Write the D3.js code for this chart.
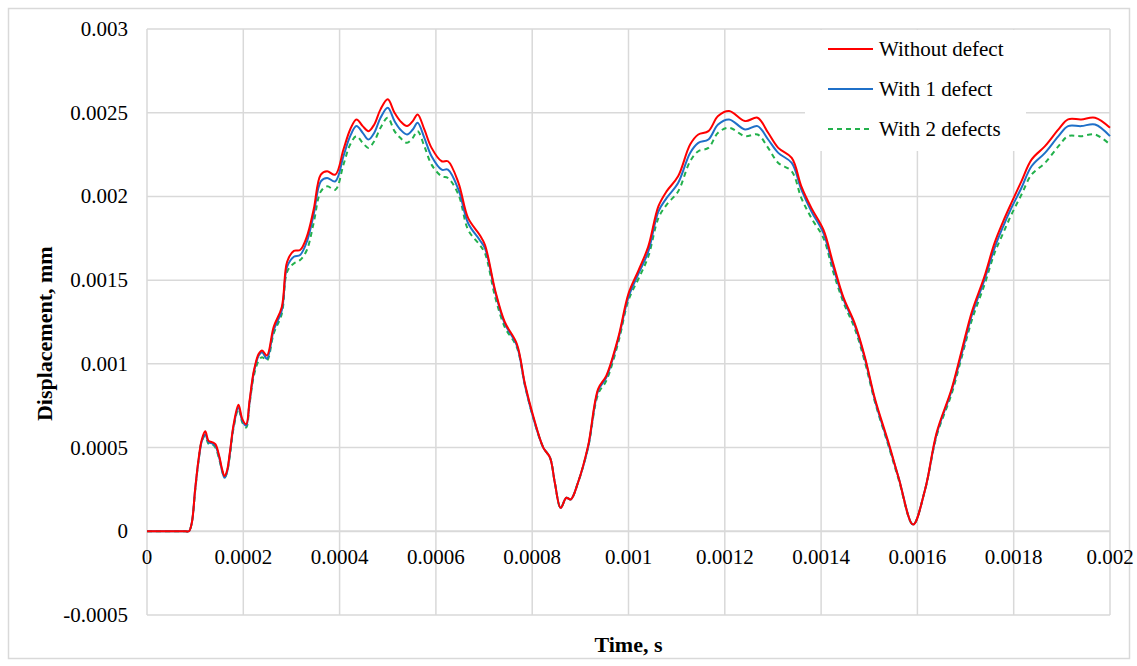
<!DOCTYPE html>
<html>
<head>
<meta charset="utf-8">
<script src="https://cdn.jsdelivr.net/npm/d3@7"></script>
<style>
  body { margin: 0; background: #fff; }
  text { font-family: "Liberation Serif", "Times New Roman", serif; fill: #000; }
</style>
</head>
<body>
<div id="chart"></div>
<script>
// Time samples (s)
let time = [0, 0.00008, 0.000087, 0.000093, 0.0001, 0.000107, 0.000114, 0.000121, 0.000128, 0.000135,
  0.000142, 0.00015, 0.000156, 0.000161, 0.000166, 0.000172, 0.00018, 0.00019, 0.000198, 0.000206,
  0.000213, 0.000222, 0.000232, 0.000239, 0.000249, 0.000263, 0.00028, 0.000291, 0.000305, 0.000318,
  0.000332, 0.000346, 0.000361, 0.000374, 0.000391, 0.000408, 0.000422, 0.000435, 0.000448, 0.00046,
  0.000472, 0.000485, 0.0005, 0.000514, 0.000526, 0.00054, 0.000552, 0.000562, 0.000576, 0.000591,
  0.000612, 0.000625, 0.000647, 0.000667, 0.000691, 0.000702, 0.000723, 0.000743, 0.000768, 0.000785,
  0.000802, 0.000823, 0.000837, 0.000847, 0.000859, 0.000871, 0.00088, 0.000895, 0.000916, 0.000937,
  0.000954, 0.000979, 0.001, 0.001021, 0.001041, 0.001062, 0.001079, 0.001103, 0.001128, 0.001145,
  0.001166, 0.001186, 0.001209, 0.001242, 0.001268, 0.00129, 0.001311, 0.001339, 0.001359, 0.00138,
  0.001405, 0.001425, 0.001446, 0.00147, 0.001491, 0.001512, 0.00154, 0.001561, 0.001591, 0.001616,
  0.00164, 0.001671, 0.001692, 0.001713, 0.001739, 0.00176, 0.001778, 0.001795, 0.001816, 0.001837,
  0.001865, 0.001893, 0.001913, 0.00194, 0.001969, 0.002];

// Displacement (mm), without defect
let noDefect = [0, 0, 0, 0.00005, 0.00025, 0.00043, 0.00055, 0.000597, 0.00054, 0.000533,
  0.00052, 0.00045, 0.00037, 0.00033, 0.00036, 0.00047, 0.00064, 0.000756, 0.00067, 0.00064,
  0.00078, 0.00096, 0.00106, 0.00108, 0.00105, 0.00122, 0.00134, 0.00161, 0.001675, 0.00168,
  0.00176, 0.00192, 0.00213, 0.00215, 0.00213, 0.00228, 0.0024, 0.00246, 0.00242, 0.00239,
  0.00243, 0.00252, 0.00258, 0.0025, 0.00245, 0.00242, 0.00245, 0.00249, 0.0024, 0.00229,
  0.00221, 0.00221, 0.00208, 0.00187, 0.00177, 0.00171, 0.00144, 0.00125, 0.00112, 0.00088,
  0.00069, 0.0005, 0.00044, 0.00029, 0.00014, 0.0002, 0.00019, 0.00029, 0.00051, 0.00085,
  0.00093, 0.00116, 0.00142, 0.00156, 0.0017, 0.00194, 0.00203, 0.00212, 0.00231, 0.00237,
  0.00239, 0.00248, 0.00251, 0.00245, 0.00247, 0.00238, 0.00229, 0.00223, 0.00206, 0.00193,
  0.0018, 0.0016, 0.0014, 0.00124, 0.00104, 0.00079, 0.00053, 0.00032, 0.00004, 0.00025,
  0.00059, 0.00085, 0.00108, 0.00131, 0.00152, 0.00172, 0.00185, 0.00196, 0.00209, 0.00222,
  0.0023, 0.0024, 0.00246, 0.00246, 0.00247, 0.00241];

// With 1 defect
let oneDefect = [0, 0, 0, 0.00005, 0.00025, 0.00042, 0.00054, 0.00058, 0.00053, 0.000525,
  0.00051, 0.00044, 0.00036, 0.00032, 0.00035, 0.00046, 0.00063, 0.00074, 0.00066, 0.00063,
  0.00077, 0.00095, 0.00105, 0.00107, 0.00103, 0.0012, 0.00132, 0.00158, 0.00164, 0.00165,
  0.00173, 0.00189, 0.00209, 0.00211, 0.00209, 0.00224, 0.00236, 0.00242, 0.00238, 0.00234,
  0.00238, 0.00247, 0.00253, 0.00245, 0.0024, 0.00237, 0.0024, 0.00244, 0.00235, 0.00224,
  0.00216, 0.00216, 0.00204, 0.00184, 0.00174, 0.00169, 0.00143, 0.00124, 0.00111, 0.00087,
  0.00068, 0.0005, 0.00044, 0.00029, 0.00014, 0.0002, 0.00019, 0.00029, 0.0005, 0.00084,
  0.00092, 0.00115, 0.0014, 0.00154, 0.00167, 0.00191, 0.00199, 0.00208, 0.00226, 0.00232,
  0.00234, 0.00243, 0.00246, 0.0024, 0.00242, 0.00234, 0.00226, 0.0022, 0.00204, 0.00191,
  0.00178, 0.00158, 0.00139, 0.00123, 0.00103, 0.00078, 0.00052, 0.00032, 0.00004, 0.00025,
  0.00058, 0.00084, 0.00106, 0.00129, 0.0015, 0.00169, 0.00182, 0.00193, 0.00205, 0.00218,
  0.00226, 0.00236, 0.00242, 0.00242, 0.00243, 0.00236];

// With 2 defects
let twoDefects = [0, 0, 0, 0.00005, 0.00024, 0.00042, 0.00054, 0.00057, 0.00052, 0.00052,
  0.00050, 0.00043, 0.00036, 0.00032, 0.00035, 0.00045, 0.00062, 0.00073, 0.00065, 0.00062,
  0.00076, 0.00093, 0.00102, 0.00104, 0.00102, 0.00118, 0.0013, 0.00155, 0.0016, 0.00162,
  0.00168, 0.00184, 0.00203, 0.00206, 0.00204, 0.00219, 0.00231, 0.00236, 0.00232, 0.00229,
  0.00233, 0.00241, 0.00247, 0.00239, 0.00235, 0.00232, 0.00235, 0.00239, 0.0023, 0.00219,
  0.00212, 0.00211, 0.00201, 0.0018, 0.00171, 0.00166, 0.0014, 0.00122, 0.0011, 0.00087,
  0.00068, 0.0005, 0.00044, 0.00029, 0.00014, 0.0002, 0.00019, 0.00029, 0.0005, 0.00082,
  0.0009, 0.00113, 0.00138, 0.00151, 0.00164, 0.00187, 0.00195, 0.00203, 0.00221, 0.00227,
  0.00229, 0.00238, 0.00241, 0.00236, 0.00237, 0.00229, 0.0022, 0.00215, 0.00199, 0.00187,
  0.00175, 0.00155, 0.00137, 0.00121, 0.00101, 0.00077, 0.00051, 0.00031, 0.00004, 0.00025,
  0.00057, 0.00082, 0.00104, 0.00126, 0.00147, 0.00166, 0.00178, 0.00189, 0.00201, 0.00213,
  0.0022, 0.0023, 0.00236, 0.00236, 0.00237, 0.00231];

let seriesNames = ["Without defect", "With 1 defect", "With 2 defects"];
let xTicks = [0, 0.0002, 0.0004, 0.0006, 0.0008, 0.001, 0.0012, 0.0014, 0.0016, 0.0018, 0.002];
let xTickLabels = ["0", "0.0002", "0.0004", "0.0006", "0.0008", "0.001", "0.0012", "0.0014", "0.0016", "0.0018", "0.002"];
let yTicks = [-0.0005, 0, 0.0005, 0.001, 0.0015, 0.002, 0.0025, 0.003];
let yTickLabels = ["-0.0005", "0", "0.0005", "0.001", "0.0015", "0.002", "0.0025", "0.003"];

// Setting the SVG size
let svgWidth = 1137;
let svgHeight = 666;

let svg = d3.select("#chart")
  .append("svg")
  .attr("width", svgWidth)
  .attr("height", svgHeight);

// outer chart border
svg.append("rect")
  .attr("x", 8.5)
  .attr("y", 8.5)
  .attr("width", 1121)
  .attr("height", 650)
  .attr("fill", "#fff")
  .attr("stroke", "#d9d9d9")
  .attr("stroke-width", 1.5);

// scales
let xScale = d3.scaleLinear().domain([0, 0.002]).range([147, 1110]);
let yScale = d3.scaleLinear().domain([-0.0005, 0.003]).range([615, 29]);

let gridColor = "#d9d9d9";

// vertical gridlines
svg.append("g")
  .selectAll("line")
  .data(xTicks)
  .enter()
  .append("line")
  .attr("x1", d => xScale(d))
  .attr("x2", d => xScale(d))
  .attr("y1", yScale(0.003))
  .attr("y2", yScale(-0.0005))
  .attr("stroke", gridColor)
  .attr("stroke-width", 1.5);

// horizontal gridlines
svg.append("g")
  .selectAll("line")
  .data(yTicks)
  .enter()
  .append("line")
  .attr("x1", xScale(0))
  .attr("x2", xScale(0.002))
  .attr("y1", d => yScale(d))
  .attr("y2", d => yScale(d))
  .attr("stroke", gridColor)
  .attr("stroke-width", d => d === 0 ? 2 : 1.5);

// tick labels
svg.append("g")
  .selectAll("text")
  .data(yTicks)
  .enter()
  .append("text")
  .attr("x", 128)
  .attr("y", d => yScale(d) + 7)
  .attr("text-anchor", "end")
  .style("font-size", "21px")
  .text((d, i) => yTickLabels[i]);

svg.append("g")
  .selectAll("text")
  .data(xTicks)
  .enter()
  .append("text")
  .attr("x", d => xScale(d))
  .attr("y", 564)
  .attr("text-anchor", "middle")
  .style("font-size", "21px")
  .text((d, i) => xTickLabels[i]);

// axis titles
svg.append("text")
  .attr("x", xScale(0.001))
  .attr("y", 652)
  .attr("text-anchor", "middle")
  .style("font-size", "22px")
  .style("font-weight", "bold")
  .text("Time, s");

svg.append("text")
  .attr("transform", `translate(52, ${yScale(0.00118)}) rotate(-90)`)
  .attr("text-anchor", "middle")
  .style("font-size", "22px")
  .style("font-weight", "bold")
  .text("Displacement, mm");

// curves
let seriesData = [noDefect, oneDefect, twoDefects];
let colors = ["#ff0000", "#1f70c8", "#22b14c"];
let dashes = [null, null, "5,4"];

let line = d3.line()
  .x((d, i) => xScale(time[i]))
  .y(d => yScale(d))
  .curve(d3.curveCatmullRom.alpha(0.5));

// draw from back to front: green, blue, red
[2, 1, 0].forEach(function(k) {
  svg.append("path")
    .datum(seriesData[k])
    .attr("d", line)
    .attr("fill", "none")
    .attr("stroke", colors[k])
    .attr("stroke-width", 2)
    .attr("stroke-dasharray", dashes[k]);
});

// legend
let legend = svg.append("g");
legend.append("rect")
  .attr("x", 805)
  .attr("y", 30)
  .attr("width", 221)
  .attr("height", 121)
  .attr("fill", "#fff");

let legendRows = legend.selectAll("g.row")
  .data(seriesNames)
  .enter()
  .append("g")
  .attr("class", "row")
  .attr("transform", (d, i) => `translate(0, ${49 + i * 40})`);

legendRows.append("line")
  .attr("x1", 828)
  .attr("x2", 873)
  .attr("y1", 0)
  .attr("y2", 0)
  .attr("stroke", (d, i) => colors[i])
  .attr("stroke-width", 2)
  .attr("stroke-dasharray", (d, i) => dashes[i]);

legendRows.append("text")
  .attr("x", 879)
  .attr("y", 7)
  .style("font-size", "21px")
  .text(d => d);
</script>
</body>
</html>
